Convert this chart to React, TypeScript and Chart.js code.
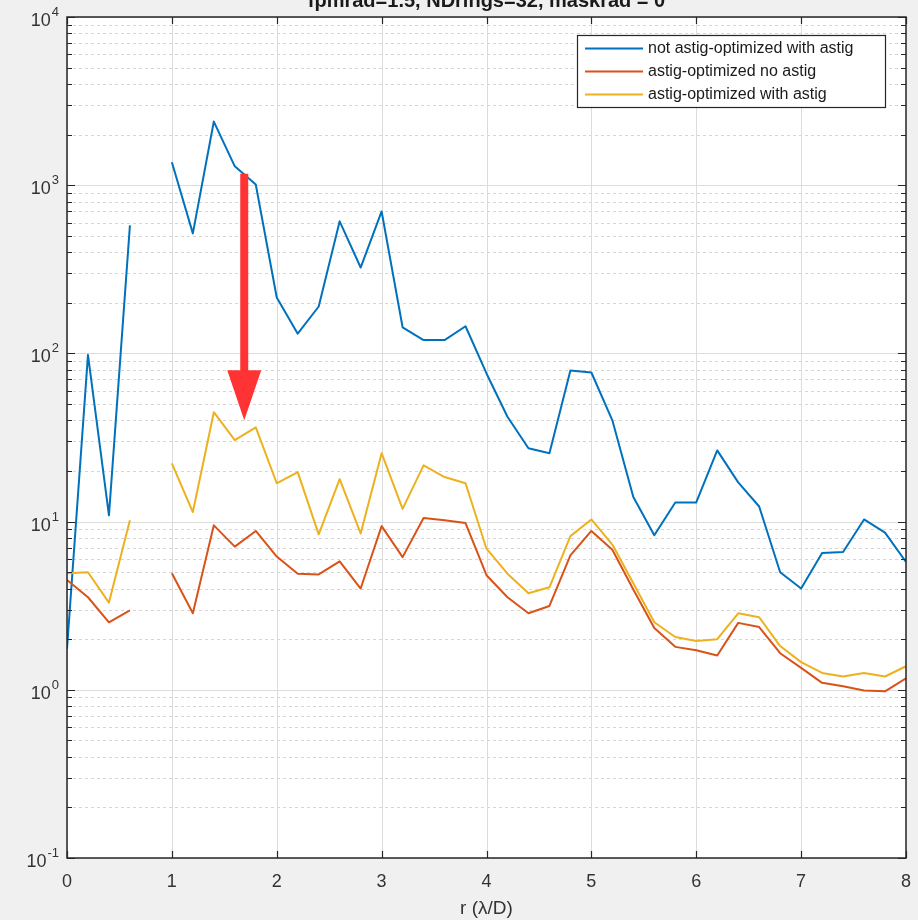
import React, { useEffect, useRef } from 'react';
import { Chart, registerables } from 'chart.js';

Chart.register(...registerables);

// Radial positions (λ/D); 0.8 has no samples in any series
const rValues = [
  0, 0.2, 0.4, 0.6, 0.8,
  1.0, 1.2, 1.4, 1.6, 1.8, 2.0, 2.2, 2.4, 2.6, 2.8,
  3.0, 3.2, 3.4, 3.6, 3.8, 4.0, 4.2, 4.4, 4.6, 4.8,
  5.0, 5.2, 5.4, 5.6, 5.8, 6.0, 6.2, 6.4, 6.6, 6.8,
  7.0, 7.2, 7.4, 7.6, 7.8, 8.0,
];

const notOptimizedWithAstig = [
  1.75, 98, 10.9, 577, null,
  1370, 517, 2390, 1295, 1010, 215, 131, 190, 610, 324,
  698, 143, 120, 120, 145, 76, 42, 27.3, 25.5, 79,
  77, 40, 14, 8.3, 13, 13, 26.5, 17.1, 12.3, 5.0,
  4.0, 6.5, 6.6, 10.3, 8.6, 5.75,
];

const optimizedNoAstig = [
  4.5, 3.55, 2.52, 2.97, null,
  4.93, 2.85, 9.5, 7.1, 8.8, 6.2, 4.9, 4.85, 5.8, 4.0,
  9.4, 6.15, 10.5, 10.2, 9.8, 4.8, 3.55, 2.85, 3.15, 6.3,
  8.8, 6.8, 3.95, 2.33, 1.8, 1.72, 1.6, 2.5, 2.36, 1.65,
  1.35, 1.1, 1.05, 0.99, 0.98, 1.17,
];

const optimizedWithAstig = [
  4.93, 5.0, 3.3, 10.2, null,
  22.2, 11.4, 44.7, 30.5, 36.3, 16.9, 19.7, 8.4, 17.9, 8.5,
  25.5, 11.9, 21.6, 18.4, 16.9, 6.9, 4.9, 3.75, 4.07, 8.2,
  10.3, 7.3, 4.3, 2.52, 2.06, 1.95, 2.0, 2.85, 2.7, 1.82,
  1.46, 1.26, 1.2, 1.26, 1.2, 1.38,
];

const seriesLabels = [
  'not astig-optimized with astig',
  'astig-optimized no astig',
  'astig-optimized with astig',
];
const seriesColors = ['#0072BD', '#D95319', '#EDB120'];

const xTicks = [0, 1, 2, 3, 4, 5, 6, 7, 8];
const yDecadeExponents = [-1, 0, 1, 2, 3, 4];
const minorMultipliers = [2, 3, 4, 5, 6, 7, 8, 9];

const titleText = 'fpmrad=1.5, NDrings=32, maskrad = 0';
const xAxisTitle = 'r (λ/D)';

// Red arrow marking the drop between the two blue/yellow curves
const arrowR = 1.69;
const arrowFrom = 1170;
const arrowTo = 40;

const FONT = '"Liberation Sans", Arial, Helvetica, sans-serif';
const AXIS_COLOR = '#262626';
const TEXT_COLOR = '#333333';

const matlabAxes = {
  id: 'matlabAxes',
  beforeDraw(chart: any) {
    const { ctx, chartArea: a, width, height } = chart;
    const xs = chart.scales.x;
    const ys = chart.scales.y;
    ctx.save();
    ctx.fillStyle = '#f0f0f0';
    ctx.fillRect(0, 0, width, height);
    ctx.fillStyle = '#ffffff';
    ctx.fillRect(a.left, a.top, a.right - a.left, a.bottom - a.top);

    ctx.lineWidth = 1;
    // minor (dotted) horizontal grid
    ctx.strokeStyle = '#d6d6d6';
    ctx.setLineDash([3, 3]);
    for (const e of yDecadeExponents.slice(0, -1)) {
      for (const m of minorMultipliers) {
        const y = Math.round(ys.getPixelForValue(m * Math.pow(10, e))) + 0.5;
        ctx.beginPath();
        ctx.moveTo(a.left, y);
        ctx.lineTo(a.right, y);
        ctx.stroke();
      }
    }
    ctx.setLineDash([]);
    // major grid
    ctx.strokeStyle = '#dcdcdc';
    for (const e of yDecadeExponents) {
      const y = Math.round(ys.getPixelForValue(Math.pow(10, e))) + 0.5;
      ctx.beginPath();
      ctx.moveTo(a.left, y);
      ctx.lineTo(a.right, y);
      ctx.stroke();
    }
    for (const t of xTicks) {
      const x = Math.round(xs.getPixelForValue(t)) + 0.5;
      ctx.beginPath();
      ctx.moveTo(x, a.top);
      ctx.lineTo(x, a.bottom);
      ctx.stroke();
    }
    ctx.restore();
  },
  afterDatasetsDraw(chart: any) {
    const { ctx, chartArea: a } = chart;
    const xs = chart.scales.x;
    const ys = chart.scales.y;
    ctx.save();

    // arrow
    const ax = xs.getPixelForValue(arrowR);
    const ay0 = ys.getPixelForValue(arrowFrom);
    const ay1 = ys.getPixelForValue(arrowTo);
    const headLen = 50;
    const headHalf = 17;
    const shaftHalf = 4;
    ctx.fillStyle = '#ff3333';
    ctx.fillRect(ax - shaftHalf, ay0, shaftHalf * 2, ay1 - headLen - ay0 + 1);
    ctx.beginPath();
    ctx.moveTo(ax - headHalf, ay1 - headLen);
    ctx.lineTo(ax + headHalf, ay1 - headLen);
    ctx.lineTo(ax, ay1);
    ctx.closePath();
    ctx.fill();

    // axes box
    ctx.strokeStyle = AXIS_COLOR;
    ctx.lineWidth = 1.5;
    ctx.strokeRect(a.left, a.top, a.right - a.left, a.bottom - a.top);

    // tick marks (inward on all sides)
    ctx.lineWidth = 1.2;
    ctx.beginPath();
    for (const t of xTicks) {
      const x = Math.round(xs.getPixelForValue(t)) + 0.5;
      ctx.moveTo(x, a.bottom);
      ctx.lineTo(x, a.bottom - 7);
      ctx.moveTo(x, a.top);
      ctx.lineTo(x, a.top + 7);
    }
    for (const e of yDecadeExponents) {
      const y = Math.round(ys.getPixelForValue(Math.pow(10, e))) + 0.5;
      ctx.moveTo(a.left, y);
      ctx.lineTo(a.left + 8, y);
      ctx.moveTo(a.right, y);
      ctx.lineTo(a.right - 8, y);
      if (e < yDecadeExponents[yDecadeExponents.length - 1]) {
        for (const m of minorMultipliers) {
          const ym = Math.round(ys.getPixelForValue(m * Math.pow(10, e))) + 0.5;
          ctx.moveTo(a.left, ym);
          ctx.lineTo(a.left + 5, ym);
          ctx.moveTo(a.right, ym);
          ctx.lineTo(a.right - 5, ym);
        }
      }
    }
    ctx.stroke();

    // x tick labels
    ctx.fillStyle = TEXT_COLOR;
    ctx.font = `18px ${FONT}`;
    ctx.textAlign = 'center';
    ctx.textBaseline = 'alphabetic';
    for (const t of xTicks) {
      ctx.fillText(String(t), xs.getPixelForValue(t), a.bottom + 29);
    }

    // y tick labels: 10 with superscript exponent
    const labelRight = a.left - 9;
    ctx.textAlign = 'left';
    for (const e of yDecadeExponents) {
      const y = ys.getPixelForValue(Math.pow(10, e));
      const expStr = e < 0 ? '-' + Math.abs(e) : String(e);
      ctx.font = `13px ${FONT}`;
      const wExp = ctx.measureText(expStr).width;
      ctx.font = `18px ${FONT}`;
      const wBase = ctx.measureText('10').width;
      const x0 = labelRight - wExp - wBase;
      ctx.fillText('10', x0, y + 9);
      ctx.font = `13px ${FONT}`;
      ctx.fillText(expStr, x0 + wBase + 1, y - 1);
    }

    // x axis title
    ctx.textAlign = 'center';
    ctx.font = `19px ${FONT}`;
    ctx.fillText(xAxisTitle, (a.left + a.right) / 2, a.bottom + 56);

    // title (runs off the top edge)
    ctx.fillStyle = '#1a1a1a';
    ctx.font = `bold 20px ${FONT}`;
    ctx.fillText(titleText, (a.left + a.right) / 2, 7);

    // legend
    const lx = 577;
    const ly = 35;
    const lw = 308;
    const lh = 72;
    ctx.fillStyle = '#ffffff';
    ctx.fillRect(lx, ly, lw, lh);
    ctx.strokeStyle = AXIS_COLOR;
    ctx.lineWidth = 1.2;
    ctx.strokeRect(lx + 0.5, ly + 0.5, lw, lh);
    ctx.textAlign = 'left';
    ctx.textBaseline = 'middle';
    ctx.font = `16px ${FONT}`;
    seriesLabels.forEach((label, i) => {
      const yy = ly + 13.5 + i * 23;
      ctx.strokeStyle = seriesColors[i];
      ctx.lineWidth = 2;
      ctx.beginPath();
      ctx.moveTo(lx + 8, yy);
      ctx.lineTo(lx + 66, yy);
      ctx.stroke();
      ctx.fillStyle = '#1a1a1a';
      ctx.fillText(label, lx + 71, yy);
    });

    ctx.restore();
  },
};

export default function App() {
  const canvasRef = useRef<HTMLCanvasElement | null>(null);

  useEffect(() => {
    const canvas = canvasRef.current;
    if (!canvas) return;
    const series = [notOptimizedWithAstig, optimizedNoAstig, optimizedWithAstig];
    const chart = new Chart(canvas, {
      type: 'line',
      data: {
        datasets: series.map((values, i) => ({
          label: seriesLabels[i],
          data: rValues.map((r, j) => ({ x: r, y: values[j] as any })),
          borderColor: seriesColors[i],
          backgroundColor: seriesColors[i],
          borderWidth: 2,
          pointRadius: 0,
          tension: 0,
          spanGaps: false,
          borderJoinStyle: 'round' as const,
          order: series.length - 1 - i,
        })),
      },
      options: {
        animation: false,
        responsive: false,
        devicePixelRatio: 1,
        layout: { padding: { left: 67, top: 17, right: 12, bottom: 62 } },
        scales: {
          x: { type: 'linear', min: 0, max: 8, display: false },
          y: { type: 'logarithmic', min: 0.1, max: 10000, display: false },
        },
        plugins: {
          legend: { display: false },
          tooltip: { enabled: false },
          title: { display: false },
        },
        events: [],
      },
      plugins: [matlabAxes],
    });
    return () => chart.destroy();
  }, []);

  return (
    <div style={{ position: 'absolute', left: 0, top: 0, width: 918, height: 920 }}>
      <canvas ref={canvasRef} width={918} height={920} style={{ display: 'block' }} />
    </div>
  );
}
